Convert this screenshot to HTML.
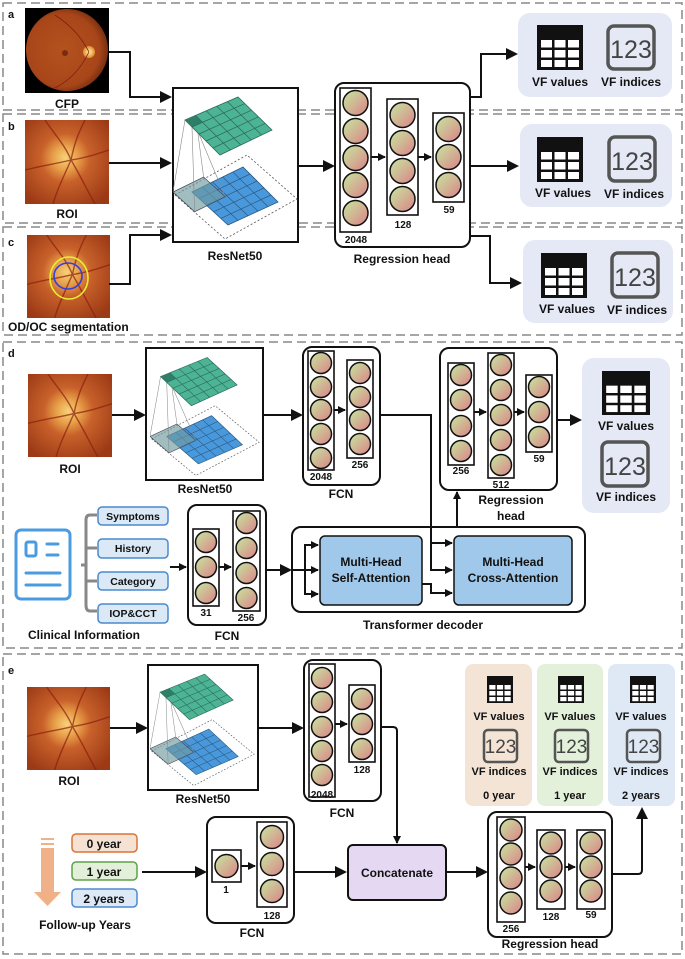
<!DOCTYPE html>
<html><head><meta charset="utf-8"><style>
html,body{margin:0;padding:0;background:#fff;}
svg{display:block;}
text{font-family:"Liberation Sans",sans-serif;font-weight:bold;fill:#111;}
text.num{font-weight:normal;fill:#444;}
.n{fill:url(#cg);stroke:#111;stroke-width:1.5;}
.col{fill:none;stroke:#111;stroke-width:1.6;}
.box{fill:#fff;stroke:#111;stroke-width:2;}
.ln{fill:none;stroke:#111;stroke-width:2;}
.dash{fill:none;stroke:#888;stroke-width:1.5;stroke-dasharray:9,5;}
</style></head><body>
<svg width="685" height="959" viewBox="0 0 685 959" xmlns="http://www.w3.org/2000/svg">
<defs>
<linearGradient id="cg" x1="0" y1="0" x2="1" y2="1"><stop offset="0.15" stop-color="#c9d89c"/><stop offset="0.9" stop-color="#d98c8a"/></linearGradient>
<radialGradient id="roi" cx="0.48" cy="0.45" r="0.65"><stop offset="0" stop-color="#f6d27a"/><stop offset="0.22" stop-color="#e8a14a"/><stop offset="0.45" stop-color="#c8612a"/><stop offset="1" stop-color="#9c3a16"/></radialGradient>
<radialGradient id="fund" cx="0.45" cy="0.5" r="0.55"><stop offset="0" stop-color="#b4521e"/><stop offset="0.8" stop-color="#a8461a"/><stop offset="1" stop-color="#7a2e10"/></radialGradient>
<radialGradient id="disc"><stop offset="0" stop-color="#fff2a0"/><stop offset="1" stop-color="#e08a30"/></radialGradient>
<marker id="ah" markerWidth="8" markerHeight="8" refX="7" refY="4" orient="auto" markerUnits="userSpaceOnUse"><path d="M0,0 L8,4 L0,8 Z" fill="#111"/></marker>
<marker id="ah2" markerWidth="12" markerHeight="12" refX="10" refY="6" orient="auto" markerUnits="userSpaceOnUse"><path d="M0,0 L12,6 L0,12 Z" fill="#111"/></marker>
<symbol id="res" viewBox="0 0 125 154" preserveAspectRatio="none">
<path d="M2,107 L74,67 L124,111 L52,151 Z" fill="none" stroke="#555" stroke-width="0.8" stroke-dasharray="2,2"/>
<path d="M19,104 L70,79 L105,114 L55,137 Z" fill="#4a98dc" stroke="#2a5a80" stroke-width="0.8"/>
<g stroke="#2a5a80" stroke-width="0.7"><line x1="26.2" y1="110.6" x2="77" y2="86"/><line x1="33.4" y1="117.2" x2="84" y2="93"/><line x1="40.6" y1="123.8" x2="91" y2="100"/><line x1="47.8" y1="130.4" x2="98" y2="107"/><line x1="29.2" y1="99" x2="65" y2="132.4"/><line x1="39.4" y1="94" x2="75" y2="127.8"/><line x1="49.6" y1="89" x2="85" y2="123.2"/><line x1="59.8" y1="84" x2="95" y2="118.6"/></g>
<path d="M0,104 L30.6,89 L52.2,108.8 L21.6,123.8 Z" fill="#6f9a9e" fill-opacity="0.65" stroke="#445" stroke-width="0.7"/>
<g stroke="#888" stroke-width="0.6"><line x1="12" y1="32" x2="0" y2="104"/><line x1="22.6" y1="27.4" x2="30.6" y2="89"/><line x1="26" y1="46" x2="52.2" y2="108.8"/><line x1="19" y1="39" x2="21.6" y2="123.8"/></g>
<path d="M12,32 L65,9 L99,42 L47,67 Z" fill="#4cb394" stroke="#2a6a58" stroke-width="0.8"/>
<path d="M12,32 L22.6,27.4 L29.6,34 L19,39 Z" fill="#2f7e68"/>
<g stroke="#2a6a58" stroke-width="0.7"><line x1="19" y1="39" x2="71.8" y2="15.6"/><line x1="26" y1="46" x2="78.6" y2="22.2"/><line x1="33" y1="53" x2="85.4" y2="28.8"/><line x1="40" y1="60" x2="92.2" y2="35.4"/><line x1="22.6" y1="27.4" x2="57.4" y2="62"/><line x1="33.2" y1="22.8" x2="67.8" y2="57"/><line x1="43.8" y1="18.2" x2="78.2" y2="52"/><line x1="54.4" y1="13.6" x2="88.6" y2="47"/></g>
</symbol>
<symbol id="tbl" viewBox="0 0 46 45" preserveAspectRatio="none">
<rect x="0" y="0" width="46" height="45" fill="#111"/>
<g fill="#fff"><rect x="4" y="15" width="11" height="7.5"/><rect x="17.5" y="15" width="11" height="7.5"/><rect x="31" y="15" width="11" height="7.5"/><rect x="4" y="25" width="11" height="7.5"/><rect x="17.5" y="25" width="11" height="7.5"/><rect x="31" y="25" width="11" height="7.5"/><rect x="4" y="35" width="11" height="7"/><rect x="17.5" y="35" width="11" height="7"/><rect x="31" y="35" width="11" height="7"/></g>
</symbol>
<symbol id="roiimg" viewBox="0 0 84 84" preserveAspectRatio="none">
<rect width="84" height="84" fill="url(#roi)"/>
<g stroke="#8a1e0e" stroke-width="1.4" fill="none" opacity="0.7"><path d="M46,40 C50,20 55,10 60,0"/><path d="M46,40 C40,25 30,15 20,0"/><path d="M46,40 C55,55 62,70 70,84"/><path d="M46,40 C38,58 32,70 28,84"/><path d="M46,40 C60,38 72,34 84,30"/><path d="M46,40 C30,44 15,46 0,50"/></g>
</symbol>
</defs>

<rect class="dash" x="3" y="3" width="679" height="107"/>
<rect class="dash" x="3" y="114" width="679" height="109"/>
<rect class="dash" x="3" y="227" width="679" height="108"/>
<rect class="dash" x="3" y="342" width="679" height="306"/>
<rect class="dash" x="3" y="654" width="679" height="300"/>
<text x="8" y="18" font-size="11">a</text>
<text x="8" y="130" font-size="11">b</text>
<text x="8" y="246" font-size="11">c</text>
<text x="8" y="357" font-size="11">d</text>
<text x="8" y="674" font-size="11">e</text>

<rect x="25" y="8" width="84" height="85" fill="#000"/>
<circle cx="67" cy="50" r="41" fill="url(#fund)"/>
<circle cx="65" cy="53" r="3" fill="#7a2a10"/>
<circle cx="89" cy="52" r="6" fill="url(#disc)"/>
<g stroke="#7a2010" stroke-width="0.8" fill="none"><path d="M89,52 C80,35 70,25 55,15"/><path d="M89,52 C80,70 70,80 55,88"/></g>
<text x="67" y="108" font-size="12" text-anchor="middle">CFP</text>
<use href="#roiimg" x="25" y="120" width="84" height="84"/>
<text x="67" y="218" font-size="12" text-anchor="middle">ROI</text>
<use href="#roiimg" x="27" y="235" width="83" height="83"/>
<ellipse cx="69" cy="278" rx="19" ry="21" fill="none" stroke="#e4f030" stroke-width="1.6"/>
<ellipse cx="68" cy="276" rx="14" ry="13" fill="none" stroke="#3040e0" stroke-width="1.6"/>
<text x="8" y="331" font-size="12">OD/OC segmentation</text>

<path class="ln" d="M109,52 H130 V97 H170" marker-end="url(#ah2)"/>
<path class="ln" d="M109,163 H170" marker-end="url(#ah2)"/>
<path class="ln" d="M109,284 H130 V235 H170" marker-end="url(#ah2)"/>

<rect class="box" x="173" y="88" width="125" height="154"/>
<use href="#res" x="173" y="88" width="125" height="154"/>
<text x="235" y="260" font-size="12" text-anchor="middle">ResNet50</text>
<path class="ln" d="M298,166 H333" marker-end="url(#ah2)"/>

<rect class="box" x="335" y="83" width="135" height="164" rx="9"/>
<rect class="col" x="340" y="88" width="31" height="144"/>
<g class="n"><circle cx="355.5" cy="103" r="12.5"/><circle cx="355.5" cy="131" r="12.5"/><circle cx="355.5" cy="158" r="12.5"/><circle cx="355.5" cy="185" r="12.5"/><circle cx="355.5" cy="213" r="12.5"/></g>
<text x="356" y="243" font-size="10" text-anchor="middle">2048</text>
<rect class="col" x="387" y="99" width="31" height="116"/>
<g class="n"><circle cx="402.5" cy="115" r="12.5"/><circle cx="402.5" cy="143" r="12.5"/><circle cx="402.5" cy="171" r="12.5"/><circle cx="402.5" cy="199" r="12.5"/></g>
<text x="403" y="228" font-size="10" text-anchor="middle">128</text>
<rect class="col" x="433" y="113" width="31" height="89"/>
<g class="n"><circle cx="448.5" cy="129" r="12.5"/><circle cx="448.5" cy="157" r="12.5"/><circle cx="448.5" cy="185" r="12.5"/></g>
<text x="449" y="213" font-size="10" text-anchor="middle">59</text>
<path class="ln" d="M371,157 H385" marker-end="url(#ah)"/>
<path class="ln" d="M418,157 H431" marker-end="url(#ah)"/>
<text x="402" y="263" font-size="12" text-anchor="middle">Regression head</text>

<path class="ln" d="M470,97 H481 V54 H516" marker-end="url(#ah2)"/>
<path class="ln" d="M470,166 H517" marker-end="url(#ah2)"/>
<path class="ln" d="M470,236 H490 V283 H520" marker-end="url(#ah2)"/>
<g>
<rect x="518" y="13" width="154" height="84" rx="12" fill="#e5e9f5"/>
<use href="#tbl" x="537" y="25" width="46" height="45"/>
<rect x="608" y="26" width="46" height="43" rx="6" fill="none" stroke="#555" stroke-width="3.5"/>
<text class="num" x="631" y="58" font-size="25" text-anchor="middle">123</text>
<text x="560" y="86" font-size="12" text-anchor="middle">VF values</text>
<text x="631" y="86" font-size="12" text-anchor="middle">VF indices</text>
</g>
<g>
<rect x="520" y="124" width="152" height="83" rx="12" fill="#e5e9f5"/>
<use href="#tbl" x="537" y="137" width="46" height="45"/>
<rect x="609" y="137" width="46" height="44" rx="6" fill="none" stroke="#555" stroke-width="3.5"/>
<text class="num" x="632" y="170" font-size="25" text-anchor="middle">123</text>
<text x="563" y="197" font-size="12" text-anchor="middle">VF values</text>
<text x="634" y="198" font-size="12" text-anchor="middle">VF indices</text>
</g>
<g>
<rect x="523" y="240" width="150" height="83" rx="12" fill="#e5e9f5"/>
<use href="#tbl" x="541" y="253" width="46" height="45"/>
<rect x="612" y="253" width="46" height="44" rx="6" fill="none" stroke="#555" stroke-width="3.5"/>
<text class="num" x="635" y="286" font-size="25" text-anchor="middle">123</text>
<text x="567" y="313" font-size="12" text-anchor="middle">VF values</text>
<text x="637" y="314" font-size="12" text-anchor="middle">VF indices</text>
</g>

<use href="#roiimg" x="28" y="374" width="84" height="83"/>
<text x="70" y="473" font-size="12" text-anchor="middle">ROI</text>
<path class="ln" d="M112,415 H144" marker-end="url(#ah2)"/>
<rect class="box" x="146" y="348" width="117" height="132"/>
<use href="#res" x="150" y="350" width="110" height="128"/>
<text x="205" y="493" font-size="12" text-anchor="middle">ResNet50</text>
<path class="ln" d="M263,415 H301" marker-end="url(#ah2)"/>
<rect class="box" x="303" y="347" width="77" height="138" rx="9"/>
<rect class="col" x="308" y="351" width="26" height="119"/>
<g class="n"><circle cx="321" cy="363" r="10.5"/><circle cx="321" cy="387" r="10.5"/><circle cx="321" cy="410" r="10.5"/><circle cx="321" cy="434" r="10.5"/><circle cx="321" cy="458" r="10.5"/></g>
<text x="321" y="480" font-size="10" text-anchor="middle">2048</text>
<rect class="col" x="347" y="360" width="26" height="98"/>
<g class="n"><circle cx="360" cy="373" r="10.5"/><circle cx="360" cy="397" r="10.5"/><circle cx="360" cy="420" r="10.5"/><circle cx="360" cy="444" r="10.5"/></g>
<text x="360" y="468" font-size="10" text-anchor="middle">256</text>
<path class="ln" d="M334,410 H345" marker-end="url(#ah)"/>
<text x="341" y="498" font-size="12" text-anchor="middle">FCN</text>

<rect class="box" x="440" y="348" width="117" height="142" rx="9"/>
<rect class="col" x="448" y="363" width="26" height="102"/>
<g class="n"><circle cx="461" cy="375" r="10.5"/><circle cx="461" cy="400" r="10.5"/><circle cx="461" cy="426" r="10.5"/><circle cx="461" cy="451" r="10.5"/></g>
<text x="461" y="474" font-size="10" text-anchor="middle">256</text>
<rect class="col" x="488" y="353" width="26" height="125"/>
<g class="n"><circle cx="501" cy="365" r="10.5"/><circle cx="501" cy="390" r="10.5"/><circle cx="501" cy="415" r="10.5"/><circle cx="501" cy="440" r="10.5"/><circle cx="501" cy="465" r="10.5"/></g>
<text x="501" y="488" font-size="10" text-anchor="middle">512</text>
<rect class="col" x="526" y="375" width="26" height="77"/>
<g class="n"><circle cx="539" cy="387" r="10.5"/><circle cx="539" cy="412" r="10.5"/><circle cx="539" cy="437" r="10.5"/></g>
<text x="539" y="462" font-size="10" text-anchor="middle">59</text>
<path class="ln" d="M474,412 H486" marker-end="url(#ah)"/>
<path class="ln" d="M514,412 H524" marker-end="url(#ah)"/>
<text x="511" y="504" font-size="12" text-anchor="middle">Regression</text>
<text x="511" y="520" font-size="12" text-anchor="middle">head</text>
<path class="ln" d="M557,420 H580" marker-end="url(#ah2)"/>
<rect x="582" y="358" width="88" height="155" rx="12" fill="#e5e9f5"/>
<use href="#tbl" x="602" y="371" width="48" height="44"/>
<text x="626" y="430" font-size="12" text-anchor="middle">VF values</text>
<rect x="602" y="442" width="46" height="44" rx="6" fill="none" stroke="#555" stroke-width="3.5"/>
<text class="num" x="625" y="475" font-size="25" text-anchor="middle">123</text>
<text x="626" y="501" font-size="12" text-anchor="middle">VF indices</text>

<rect x="16" y="530" width="54" height="69" rx="5" fill="#fff" stroke="#4a9be0" stroke-width="3"/>
<rect x="26" y="542" width="10" height="14" rx="2" fill="none" stroke="#4a9be0" stroke-width="3"/>
<g stroke="#4a9be0" stroke-width="3" stroke-linecap="round"><line x1="47" y1="544" x2="58" y2="544"/><line x1="47" y1="555" x2="58" y2="555"/><line x1="26" y1="573" x2="60" y2="573"/><line x1="26" y1="585" x2="60" y2="585"/></g>
<text x="84" y="639" font-size="12" text-anchor="middle">Clinical Information</text>
<path d="M97,515 H90 Q86,515 86,520 V605 Q86,611 90,611 H97 M81,565 H86 M86,548 H97 M86,581 H97" fill="none" stroke="#888" stroke-width="3"/>
<g fill="#dbe9f7" stroke="#4a8acc" stroke-width="1.5">
<rect x="98" y="507" width="70" height="18" rx="4"/><rect x="98" y="539" width="70" height="19" rx="4"/><rect x="98" y="572" width="70" height="18" rx="4"/><rect x="98" y="604" width="70" height="19" rx="4"/></g>
<text x="133" y="520" font-size="10.5" text-anchor="middle">Symptoms</text>
<text x="133" y="552" font-size="10.5" text-anchor="middle">History</text>
<text x="133" y="585" font-size="10.5" text-anchor="middle">Category</text>
<text x="133" y="617" font-size="10.5" text-anchor="middle">IOP&amp;CCT</text>
<path class="ln" d="M170,567 H186" marker-end="url(#ah)"/>
<rect class="box" x="188" y="505" width="78" height="120" rx="9"/>
<rect class="col" x="193" y="529" width="26" height="77"/>
<g class="n"><circle cx="206" cy="542" r="10.5"/><circle cx="206" cy="567" r="10.5"/><circle cx="206" cy="593" r="10.5"/></g>
<text x="206" y="616" font-size="10" text-anchor="middle">31</text>
<rect class="col" x="233" y="511" width="27" height="100"/>
<g class="n"><circle cx="246.5" cy="523" r="10.5"/><circle cx="246.5" cy="548" r="10.5"/><circle cx="246.5" cy="573" r="10.5"/><circle cx="246.5" cy="598" r="10.5"/></g>
<text x="246" y="621" font-size="10" text-anchor="middle">256</text>
<path class="ln" d="M219,567 H231" marker-end="url(#ah)"/>
<text x="227" y="640" font-size="12" text-anchor="middle">FCN</text>

<rect class="box" x="292" y="527" width="293" height="85" rx="9"/>
<path class="ln" d="M266,570 H290" marker-end="url(#ah2)"/>
<path class="ln" d="M292,570 H318" marker-end="url(#ah)"/>
<path class="ln" d="M305,570 V545 H318" marker-end="url(#ah)"/>
<path class="ln" d="M305,570 V594 H318" marker-end="url(#ah)"/>
<rect x="320" y="536" width="102" height="69" rx="5" fill="#9fc8ea" stroke="#111" stroke-width="1.5"/>
<text x="371" y="566" font-size="12" text-anchor="middle">Multi-Head</text>
<text x="371" y="582" font-size="12" text-anchor="middle">Self-Attention</text>
<rect x="454" y="536" width="118" height="69" rx="5" fill="#9fc8ea" stroke="#111" stroke-width="1.5"/>
<text x="513" y="566" font-size="12" text-anchor="middle">Multi-Head</text>
<text x="513" y="582" font-size="12" text-anchor="middle">Cross-Attention</text>
<path class="ln" d="M380,415 H431 V570 H452" marker-end="url(#ah)"/>
<path class="ln" d="M431,543 H452" marker-end="url(#ah)"/>
<path class="ln" d="M422,584 H431 V593 H452" marker-end="url(#ah)"/>
<path class="ln" d="M457,527 V492" marker-end="url(#ah)"/>
<text x="423" y="629" font-size="12" text-anchor="middle">Transformer decoder</text>

<use href="#roiimg" x="27" y="687" width="83" height="83"/>
<text x="69" y="785" font-size="12" text-anchor="middle">ROI</text>
<path class="ln" d="M110,728 H146" marker-end="url(#ah2)"/>
<rect class="box" x="148" y="665" width="110" height="125"/>
<use href="#res" x="150" y="667" width="105" height="121"/>
<text x="203" y="803" font-size="12" text-anchor="middle">ResNet50</text>
<path class="ln" d="M258,728 H302" marker-end="url(#ah2)"/>
<rect class="box" x="304" y="660" width="77" height="141" rx="9"/>
<rect class="col" x="309" y="664" width="26" height="133"/>
<g class="n"><circle cx="322" cy="678" r="10.5"/><circle cx="322" cy="702" r="10.5"/><circle cx="322" cy="727" r="10.5"/><circle cx="322" cy="751" r="10.5"/><circle cx="322" cy="775" r="10.5"/></g>
<text x="322" y="798" font-size="10" text-anchor="middle">2048</text>
<rect class="col" x="349" y="685" width="26" height="77"/>
<g class="n"><circle cx="362" cy="699" r="10.5"/><circle cx="362" cy="724" r="10.5"/><circle cx="362" cy="749" r="10.5"/></g>
<text x="362" y="773" font-size="10" text-anchor="middle">128</text>
<path class="ln" d="M335,724 H347" marker-end="url(#ah)"/>
<text x="342" y="817" font-size="12" text-anchor="middle">FCN</text>
<path class="ln" d="M381,727 H393 Q397,727 397,731 V843" marker-end="url(#ah)"/>

<g fill="#f0b088"><rect x="41" y="838" width="13" height="2"/><rect x="41" y="843" width="13" height="2"/><rect x="41" y="848" width="13" height="46"/><path d="M34,892 L61,892 L47.5,906 Z"/></g>
<rect x="72" y="834" width="65" height="18" rx="4" fill="#f6e2d2" stroke="#d8743a" stroke-width="1.5"/>
<rect x="72" y="862" width="65" height="18" rx="4" fill="#e2f0d9" stroke="#5fa04a" stroke-width="1.5"/>
<rect x="72" y="889" width="65" height="18" rx="4" fill="#dde9f6" stroke="#4b8ad0" stroke-width="1.5"/>
<text x="104" y="848" font-size="12" text-anchor="middle">0 year</text>
<text x="104" y="876" font-size="12" text-anchor="middle">1 year</text>
<text x="104" y="903" font-size="12" text-anchor="middle">2 years</text>
<text x="85" y="929" font-size="12" text-anchor="middle">Follow-up Years</text>
<path class="ln" d="M142,872 H205" marker-end="url(#ah2)"/>
<rect class="box" x="207" y="817" width="87" height="106" rx="9"/>
<rect class="col" x="212" y="850" width="29" height="32"/>
<circle class="n" cx="226.5" cy="866" r="11.5"/>
<text x="226" y="893" font-size="10" text-anchor="middle">1</text>
<rect class="col" x="257" y="822" width="30" height="85"/>
<g class="n"><circle cx="272" cy="837" r="11.5"/><circle cx="272" cy="864" r="11.5"/><circle cx="272" cy="891" r="11.5"/></g>
<text x="272" y="919" font-size="10" text-anchor="middle">128</text>
<path class="ln" d="M241,866 H255" marker-end="url(#ah)"/>
<text x="252" y="937" font-size="12" text-anchor="middle">FCN</text>
<path class="ln" d="M294,872 H345" marker-end="url(#ah2)"/>
<rect x="348" y="845" width="98" height="55" rx="5" fill="#e4d8f3" stroke="#111" stroke-width="2"/>
<text x="397" y="877" font-size="12" text-anchor="middle">Concatenate</text>
<path class="ln" d="M446,872 H486" marker-end="url(#ah2)"/>
<rect class="box" x="488" y="812" width="124" height="125" rx="9"/>
<rect class="col" x="497" y="817" width="28" height="105"/>
<g class="n"><circle cx="511" cy="830" r="11"/><circle cx="511" cy="854" r="11"/><circle cx="511" cy="878" r="11"/><circle cx="511" cy="903" r="11"/></g>
<text x="511" y="932" font-size="10" text-anchor="middle">256</text>
<rect class="col" x="537" y="830" width="28" height="79"/>
<g class="n"><circle cx="551" cy="843" r="11"/><circle cx="551" cy="867" r="11"/><circle cx="551" cy="891" r="11"/></g>
<text x="551" y="920" font-size="10" text-anchor="middle">128</text>
<rect class="col" x="577" y="830" width="28" height="79"/>
<g class="n"><circle cx="591" cy="843" r="11"/><circle cx="591" cy="867" r="11"/><circle cx="591" cy="891" r="11"/></g>
<text x="591" y="918" font-size="10" text-anchor="middle">59</text>
<path class="ln" d="M525,867 H535" marker-end="url(#ah)"/>
<path class="ln" d="M565,867 H575" marker-end="url(#ah)"/>
<text x="550" y="948" font-size="12" text-anchor="middle">Regression head</text>
<path class="ln" d="M612,874 H638 Q642,874 642,870 V809" marker-end="url(#ah2)"/>

<rect x="465" y="664" width="67" height="142" rx="8" fill="#f3e4d5"/>
<rect x="537" y="664" width="66" height="142" rx="8" fill="#e3f0da"/>
<rect x="608" y="664" width="67" height="142" rx="8" fill="#dfe9f5"/>
<use href="#tbl" x="487" y="676" width="26" height="27"/>
<use href="#tbl" x="558" y="676" width="26" height="27"/>
<use href="#tbl" x="630" y="676" width="26" height="27"/>
<g fill="none" stroke="#555" stroke-width="2.5"><rect x="484" y="730" width="33" height="32" rx="4"/><rect x="555" y="730" width="33" height="32" rx="4"/><rect x="627" y="730" width="33" height="32" rx="4"/></g>
<text class="num" x="500.5" y="753" font-size="19" text-anchor="middle">123</text>
<text class="num" x="571.5" y="753" font-size="19" text-anchor="middle">123</text>
<text class="num" x="643.5" y="753" font-size="19" text-anchor="middle">123</text>
<g font-size="11" text-anchor="middle">
<text x="499" y="720">VF values</text><text x="570" y="720">VF values</text><text x="641" y="720">VF values</text>
<text x="499" y="775">VF indices</text><text x="570" y="775">VF indices</text><text x="641" y="775">VF indices</text>
<text x="499" y="799">0 year</text><text x="570" y="799">1 year</text><text x="641" y="799">2 years</text></g>
</svg>
</body></html>
